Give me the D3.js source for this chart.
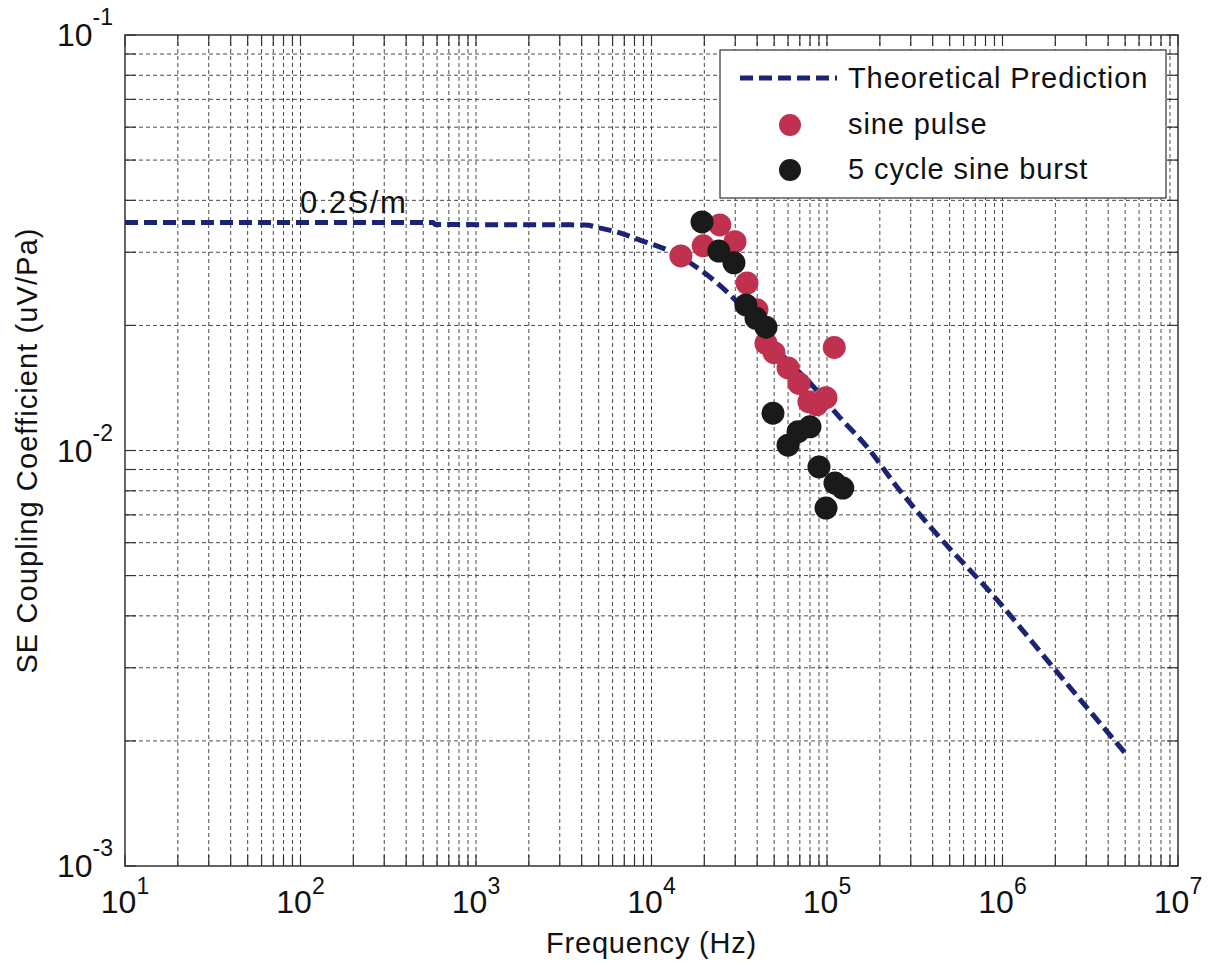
<!DOCTYPE html>
<html>
<head>
<meta charset="utf-8">
<script src="https://cdn.jsdelivr.net/npm/d3@7"></script>
<style>
  html, body { margin: 0; padding: 0; background: #fff; }
  svg text { font-family: "Liberation Sans", Arial, Helvetica, sans-serif; fill: #111; }
</style>
</head>
<body>
<svg id="chart" width="1215" height="965"></svg>
<script>
// Theoretical prediction for 0.2 S/m
const theoryFreq = [10, 569, 584, 4180, 5089, 6614, 8600, 12250, 17240, 23610, 31920, 41500,
  59160, 80000, 118600, 169000, 250600, 401800, 931000, 1940000, 5000000];
const theoryCoef = [0.0354, 0.0354, 0.0350, 0.0349, 0.0343, 0.0334, 0.0321, 0.0304, 0.0280,
  0.0253, 0.0224, 0.0195, 0.0165, 0.01454, 0.0120, 0.0102, 0.00817, 0.00644, 0.00437,
  0.00301, 0.00187];

// Measured: sine pulse
const pulseFreq = [1.47e4, 1.97e4, 2.45e4, 2.99e4, 3.50e4, 3.99e4, 4.49e4, 4.99e4, 6.0e4,
  6.92e4, 7.89e4, 8.77e4, 9.87e4, 1.10e5];
const pulseCoef = [0.0294, 0.0311, 0.0349, 0.0318, 0.0253, 0.0218, 0.0181, 0.0172, 0.0158,
  0.0145, 0.0131, 0.0129, 0.0134, 0.0177];

// Measured: 5 cycle sine burst
const burstFreq = [1.94e4, 2.42e4, 2.95e4, 3.45e4, 3.94e4, 4.49e4, 4.92e4, 6.0e4, 6.84e4,
  8.0e4, 9.0e4, 1.11e5, 1.23e5, 9.87e4];
const burstCoef = [0.0355, 0.0302, 0.0283, 0.0224, 0.0208, 0.0198, 0.0123, 0.0103, 0.0111,
  0.0114, 0.00913, 0.00835, 0.00812, 0.00727];

// Axis tick labels (exponents of ten)
const xTickExp = [1, 2, 3, 4, 5, 6, 7];
const yTickExp = [-1, -2, -3];

const legendLabels = ["Theoretical Prediction", "sine pulse", "5 cycle sine burst"];
const colors = { theory: "#1b2472", pulse: "#c0314f", burst: "#1a1a1a" };

const svg = d3.select("#chart");
const pLeft = 125, pRight = 1178, pTop = 35, pBottom = 866;

const x = d3.scaleLog().domain([10, 1e7]).range([pLeft, pRight]);
const y = d3.scaleLog().domain([1e-3, 1e-1]).range([pBottom, pTop]);

// Gridlines at every decade and sub-decade position
const xGrid = [];
for (let e = 1; e < 7; e++) for (let m = 1; m <= 9; m++) xGrid.push(m * Math.pow(10, e));
xGrid.push(1e7);
const yGrid = [];
for (let e = -3; e < -1; e++) for (let m = 1; m <= 9; m++) yGrid.push(m * Math.pow(10, e));
yGrid.push(1e-1);

const grid = svg.append("g").attr("stroke", "#4a4a4a").attr("stroke-width", 1)
  .attr("stroke-dasharray", "4,3").attr("fill", "none");
grid.selectAll("line.vx").data(xGrid.filter(d => d > 10 && d < 1e7)).join("line")
  .attr("class", "vx")
  .attr("x1", d => x(d)).attr("x2", d => x(d)).attr("y1", pTop).attr("y2", pBottom);
grid.selectAll("line.hy").data(yGrid.filter(d => d > 1e-3 && d < 1e-1)).join("line")
  .attr("class", "hy")
  .attr("x1", pLeft).attr("x2", pRight).attr("y1", d => y(d)).attr("y2", d => y(d));

// Inward ticks on all four sides
const ticks = svg.append("g").attr("stroke", "#333").attr("stroke-width", 1.2);
const tl = 11;
xGrid.forEach(d => {
  ticks.append("line").attr("x1", x(d)).attr("x2", x(d)).attr("y1", pBottom).attr("y2", pBottom - tl);
  ticks.append("line").attr("x1", x(d)).attr("x2", x(d)).attr("y1", pTop).attr("y2", pTop + tl);
});
yGrid.forEach(d => {
  ticks.append("line").attr("x1", pLeft).attr("x2", pLeft + tl).attr("y1", y(d)).attr("y2", y(d));
  ticks.append("line").attr("x1", pRight).attr("x2", pRight - tl).attr("y1", y(d)).attr("y2", y(d));
});

// Axes frame
svg.append("rect").attr("x", pLeft).attr("y", pTop).attr("width", pRight - pLeft).attr("height", pBottom - pTop)
  .attr("fill", "none").attr("stroke", "#333").attr("stroke-width", 1.5);

// Theoretical curve
const line = d3.line().x(d => x(d[0])).y(d => y(d[1])).curve(d3.curveMonotoneX);
svg.append("path")
  .datum(theoryFreq.map((f, i) => [f, theoryCoef[i]]))
  .attr("d", line)
  .attr("fill", "none").attr("stroke", colors.theory).attr("stroke-width", 5)
  .attr("stroke-dasharray", "13,6");

// Measured points
const r = 11.5;
svg.append("g").selectAll("circle")
  .data(pulseFreq.map((f, i) => [f, pulseCoef[i]])).join("circle")
  .attr("cx", d => x(d[0])).attr("cy", d => y(d[1])).attr("r", r).attr("fill", colors.pulse);
svg.append("g").selectAll("circle")
  .data(burstFreq.map((f, i) => [f, burstCoef[i]])).join("circle")
  .attr("cx", d => x(d[0])).attr("cy", d => y(d[1])).attr("r", r).attr("fill", colors.burst);

// Tick labels: powers of ten
const xl = svg.append("g");
xTickExp.forEach(e => {
  const t = xl.append("text").attr("x", x(Math.pow(10, e))).attr("y", pBottom + 47)
    .attr("text-anchor", "middle").attr("font-size", 32);
  t.append("tspan").text("10");
  t.append("tspan").attr("dy", -19).attr("font-size", 23).text(e);
});
const yl = svg.append("g");
yTickExp.forEach(e => {
  const t = yl.append("text").attr("x", pLeft - 12).attr("y", y(Math.pow(10, e)) + 11)
    .attr("text-anchor", "end").attr("font-size", 32);
  t.append("tspan").text("10");
  t.append("tspan").attr("dy", -21).attr("font-size", 23).text(e);
});

// Axis titles
svg.append("text").attr("x", (pLeft + pRight) / 2).attr("y", 953).attr("text-anchor", "middle")
  .attr("font-size", 29).attr("letter-spacing", 0.8).text("Frequency (Hz)");
svg.append("text").attr("transform", `translate(37,${(pTop + pBottom) / 2}) rotate(-90)`)
  .attr("text-anchor", "middle").attr("font-size", 29).attr("letter-spacing", 1.1)
  .text("SE Coupling Coefficient (uV/Pa)");

// Curve annotation
svg.append("text").attr("x", 300).attr("y", 213).attr("font-size", 31).attr("letter-spacing", 1.5)
  .text("0.2S/m");

// Legend
const lg = svg.append("g");
lg.append("rect").attr("x", 720).attr("y", 50).attr("width", 446).attr("height", 148)
  .attr("fill", "#fff").attr("stroke", "#333").attr("stroke-width", 1.2);
lg.append("line").attr("x1", 740).attr("x2", 837).attr("y1", 78).attr("y2", 78)
  .attr("stroke", colors.theory).attr("stroke-width", 5).attr("stroke-dasharray", "13,6");
lg.append("circle").attr("cx", 790).attr("cy", 125).attr("r", 11).attr("fill", colors.pulse);
lg.append("circle").attr("cx", 790).attr("cy", 170).attr("r", 11).attr("fill", colors.burst);
const rowY = [88, 134, 179];
legendLabels.forEach((s, i) => {
  lg.append("text").attr("x", 848).attr("y", rowY[i]).attr("font-size", 29)
    .attr("letter-spacing", 0.9).text(s);
});
</script>
</body>
</html>
